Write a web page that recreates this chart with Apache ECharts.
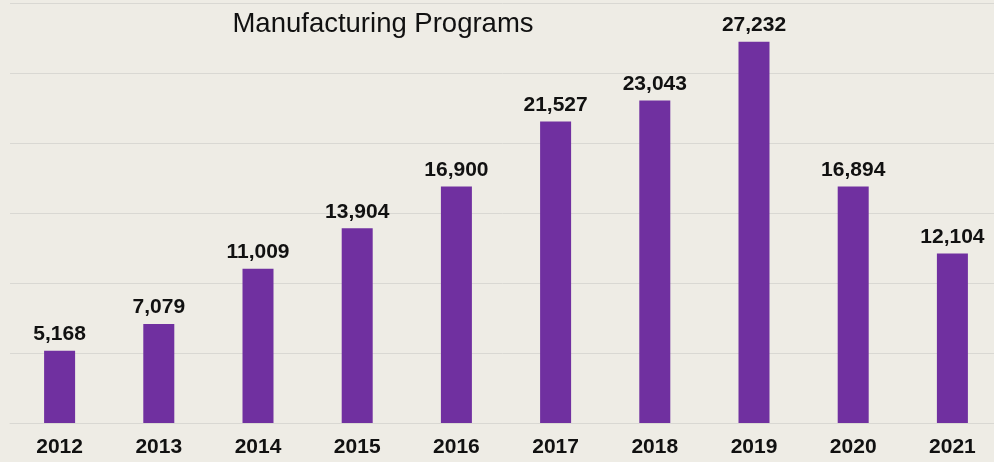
<!DOCTYPE html>
<html><head><meta charset="utf-8">
<script src="https://cdn.jsdelivr.net/npm/echarts@6/dist/echarts.min.js"></script>
<style>html,body{margin:0;padding:0;background:#EEECE5;}#c{width:994px;height:462px;}</style>
</head><body><div id="c"></div>
<script>
const categories = ['2012','2013','2014','2015','2016','2017','2018','2019','2020','2021'];
const values = [5168, 7079, 11009, 13904, 16900, 21527, 23043, 27232, 16894, 12104];
const titleText = 'Manufacturing Programs';
const chart = echarts.init(document.getElementById('c'));
chart.setOption({
  backgroundColor: '#EEECE5',
  animation: false,
  title: {
    text: titleText, left: 378, top: 5, textAlign: 'center',
    textStyle: {fontFamily: 'Liberation Sans', fontWeight: 'normal', fontSize: 27.5, color: '#111'}
  },
  grid: {left: 10, width: 992, top: 3, bottom: 39, containLabel: false, outerBoundsMode: 'none'},
  xAxis: {
    type: 'category', data: categories,
    axisLine: {lineStyle: {color: '#D9D8D3'}},
    axisTick: {show: false},
    axisLabel: {margin: 14, fontFamily: 'Liberation Sans', fontWeight: 'bold', fontSize: 21, color: '#111'}
  },
  yAxis: {
    type: 'value', min: 0, max: 30000, interval: 5000,
    axisLabel: {show: false}, axisLine: {show: false}, axisTick: {show: false},
    splitLine: {lineStyle: {color: '#D9D8D3'}}
  },
  series: [{
    type: 'bar', data: values, barWidth: 31,
    itemStyle: {color: '#7030A0'},
    label: {show: true, position: 'top', distance: 6,
      formatter: p => p.value.toLocaleString('en-US'),
      fontFamily: 'Liberation Sans', fontWeight: 'bold', fontSize: 21, color: '#111'}
  }]
});
</script></body></html>
